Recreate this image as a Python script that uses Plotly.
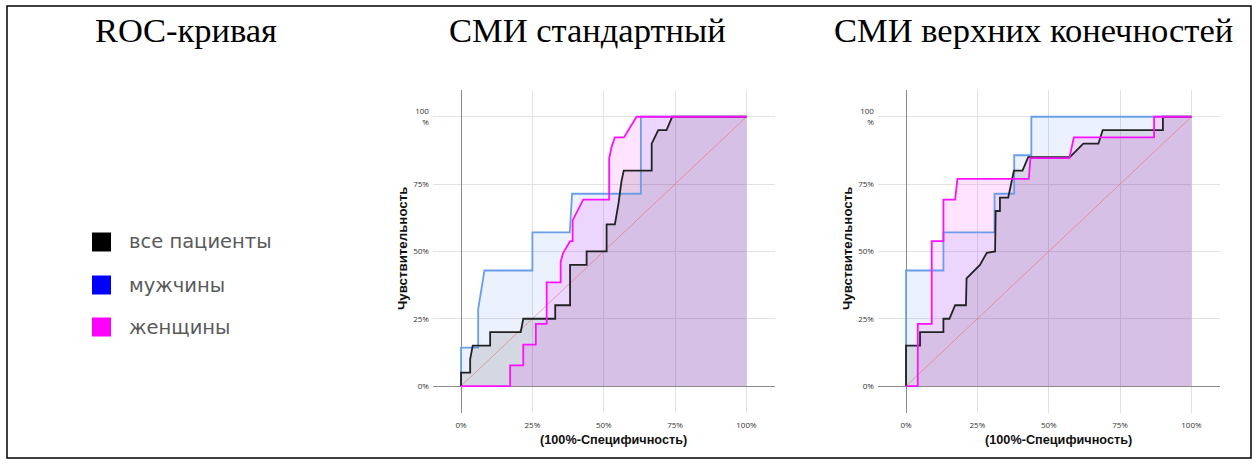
import plotly.graph_objects as go

W, H = 1259, 466

# ---------------- DATA ----------------
# Panel 1: СМИ стандартный  (x = 100%-Специфичность, y = Чувствительность)
all_std_x = [0, 0, 3.2, 3.2, 4.1, 10.2, 10.2, 20.9, 21.8, 33.0, 33.0, 38.2, 38.2, 44.0, 44.0, 51.0, 51.0,
             53.9, 55.2, 56.2, 57.0, 66.8, 66.8, 68.5, 69.1, 72.0, 74.0, 100]
all_std_y = [0, 5, 5, 10, 15, 15, 20, 20, 25, 25, 30, 30, 45, 45, 50, 50, 60,
             60, 68, 76, 80, 80, 90, 94, 95, 95, 100, 100]

men_std_x = [0, 0, 6.0, 6.0, 8.2, 25.0, 25.0, 38.1, 38.9, 63.0, 63.0, 100]
men_std_y = [0, 14.3, 14.3, 28.6, 42.9, 42.9, 57.1, 57.1, 71.4, 71.4, 100, 100]

wom_std_x = [0, 17.2, 17.2, 21.8, 21.8, 26.2, 26.2, 30.0, 30.0, 34.9, 34.9, 35.8, 38.2, 39.1, 39.1,
             42.8, 51.9, 51.9, 52.8, 53.9, 57.1, 61.5, 100]
wom_std_y = [0, 0, 7.7, 7.7, 15.4, 15.4, 23.1, 23.1, 38.5, 38.5, 46.2, 49.5, 53.8, 53.8, 61.5,
             69.2, 69.2, 84.6, 89.0, 92.3, 92.3, 100, 100]

# Panel 2: СМИ верхних конечностей
all_up_x = [0, 0, 0, 4.9, 4.9, 13.1, 13.1, 15.2, 17.2, 21.0, 21.2, 25.9, 28.3, 31.2, 31.4, 32.9, 32.9,
            35.8, 37.3, 37.8, 40.8, 42.8, 57.4, 62.1, 67.4, 68.9, 90.0, 90.0, 100]
all_up_y = [0, 5, 15, 15, 20, 20, 25, 25, 30, 30, 40, 45, 49.5, 50, 65, 65, 70,
            70, 77.5, 80, 80, 85, 85, 90, 90, 95, 95, 100, 100]

men_up_x = [0, 0, 13.1, 13.1, 31.0, 31.0, 37.9, 37.9, 43.9, 43.9, 100]
men_up_y = [0, 42.9, 42.9, 57.1, 57.1, 71.4, 71.4, 85.7, 85.7, 100, 100]

wom_up_x = [0, 4.1, 4.1, 9.0, 9.0, 13.1, 13.1, 17.2, 18.0, 43.0, 43.6, 57.2, 58.8, 86.9, 86.9, 100]
wom_up_y = [0, 0, 23.1, 23.1, 53.8, 53.8, 69.2, 69.2, 76.9, 76.9, 84.6, 84.6, 92.3, 92.3, 100, 100]

diag = [0, 100]

tick_vals = [0, 25, 50, 75, 100]
x_tick_text = ["0%", "25%", "50%", "75%", "100%"]
y_tick_text = ["0%", "25%", "50%", "75%", "100<br>%"]

panel_titles = ["СМИ стандартный", "СМИ верхних конечностей"]
legend_names = ["все пациенты", "мужчины", "женщины"]
legend_colors = ["#000000", "#0000ff", "#ff00ff"]

# ---------------- STYLE ----------------
COL_ALL = "#222222"
COL_MEN = "#6a9ee8"
COL_WOM = "#ff10ff"
FILL_ALL = "rgba(0,0,0,0.10)"
FILL_MEN = "rgba(100,149,237,0.13)"
FILL_WOM = "rgba(255,0,255,0.11)"

fig = go.Figure()

panels = [
    ("x", "y", all_std_x, all_std_y, men_std_x, men_std_y, wom_std_x, wom_std_y),
    ("x2", "y2", all_up_x, all_up_y, men_up_x, men_up_y, wom_up_x, wom_up_y),
]

for xa, ya, ax_, ay_, mx, my, wx, wy in panels:
    for xs, ys, fc in [(mx, my, FILL_MEN), (ax_, ay_, FILL_ALL), (wx, wy, FILL_WOM)]:
        fig.add_trace(go.Scatter(x=xs, y=ys, mode="lines", line=dict(width=0),
                                 fill="tozeroy", fillcolor=fc, xaxis=xa, yaxis=ya,
                                 showlegend=False, hoverinfo="skip"))
    fig.add_trace(go.Scatter(x=diag, y=diag, mode="lines",
                             line=dict(color="rgba(235,100,110,0.55)", width=1),
                             xaxis=xa, yaxis=ya, showlegend=False, hoverinfo="skip"))
    for xs, ys, lc in [(mx, my, COL_MEN), (ax_, ay_, COL_ALL), (wx, wy, COL_WOM)]:
        fig.add_trace(go.Scatter(x=xs, y=ys, mode="lines", line=dict(color=lc, width=1.8),
                                 xaxis=xa, yaxis=ya, showlegend=False))

ydom = [1 - 413 / H, 1 - 89.8 / H]
xdom1 = [432.5 / W, 775 / W]
xdom2 = [877.5 / W, 1220 / W]

axis_common = dict(range=[-10, 110], tickvals=tick_vals, showgrid=True,
                   gridcolor="#e2e2e2", gridwidth=1, zeroline=True,
                   zerolinecolor="#8a8a8a", zerolinewidth=1, showline=False,
                   tickfont=dict(family="Open Sans", size=8, color="#333"),
                   fixedrange=True)

fig.update_layout(
    width=W, height=H, margin=dict(l=0, r=0, t=0, b=0),
    paper_bgcolor="white", plot_bgcolor="white",
    xaxis=dict(domain=xdom1, anchor="y", ticktext=x_tick_text, ticks="outside",
               ticklen=4, tickcolor="rgba(0,0,0,0)", **axis_common),
    yaxis=dict(domain=ydom, anchor="x", ticktext=y_tick_text, ticks="outside",
               ticklen=1, tickcolor="rgba(0,0,0,0)", **axis_common),
    xaxis2=dict(domain=xdom2, anchor="y2", ticktext=x_tick_text, ticks="outside",
                ticklen=4, tickcolor="rgba(0,0,0,0)", **axis_common),
    yaxis2=dict(domain=ydom, anchor="x2", ticktext=y_tick_text, ticks="outside",
                ticklen=1, tickcolor="rgba(0,0,0,0)", **axis_common),
)

ann = []
serif = dict(family="Liberation Serif", size=34.5, color="#000")
for txt, xc in [("ROC-кривая", 186), (panel_titles[0], 587), (panel_titles[1], 1033)]:
    ann.append(dict(text=txt, x=xc / W, y=1 - 30 / H, xref="paper", yref="paper",
                    showarrow=False, font=serif, xanchor="center", yanchor="middle"))

for xc, yt_x in [(613, 402), (1058, 847)]:
    ann.append(dict(text="<b>(100%-Специфичность)</b>", x=xc / W, y=1 - 440 / H,
                    xref="paper", yref="paper", showarrow=False,
                    font=dict(family="Liberation Sans", size=12.7, color="#111"),
                    xanchor="center", yanchor="middle"))
    ann.append(dict(text="<b>Чувствительность</b>", x=yt_x / W, y=1 - 249 / H,
                    xref="paper", yref="paper", showarrow=False,
                    font=dict(family="Liberation Sans", size=13.3, color="#111"), textangle=-90,
                    xanchor="center", yanchor="middle"))

shapes = []
leg_y = [242, 285, 327]
for name, col, yc in zip(legend_names, legend_colors, leg_y):
    shapes.append(dict(type="rect", xref="paper", yref="paper",
                       x0=92 / W, x1=111 / W, y0=1 - (yc + 9.5) / H, y1=1 - (yc - 9.5) / H,
                       fillcolor=col, line=dict(width=0)))
    ann.append(dict(text=name, x=127 / W, y=1 - yc / H, xref="paper", yref="paper",
                    showarrow=False, xanchor="left", yanchor="middle",
                    font=dict(family="DejaVu Sans", size=19.5, color="#5a5a5a")))

shapes.append(dict(type="rect", xref="paper", yref="paper",
                   x0=7 / W, x1=1251 / W, y0=1 - 458 / H, y1=1 - 6 / H,
                   line=dict(color="#000", width=1.5), fillcolor="rgba(0,0,0,0)"))

fig.update_layout(annotations=ann, shapes=shapes)

fig.write_html("out.html", config={"displayModeBar": False},
               post_script="document.body.style.margin='0';document.body.style.padding='0';")
